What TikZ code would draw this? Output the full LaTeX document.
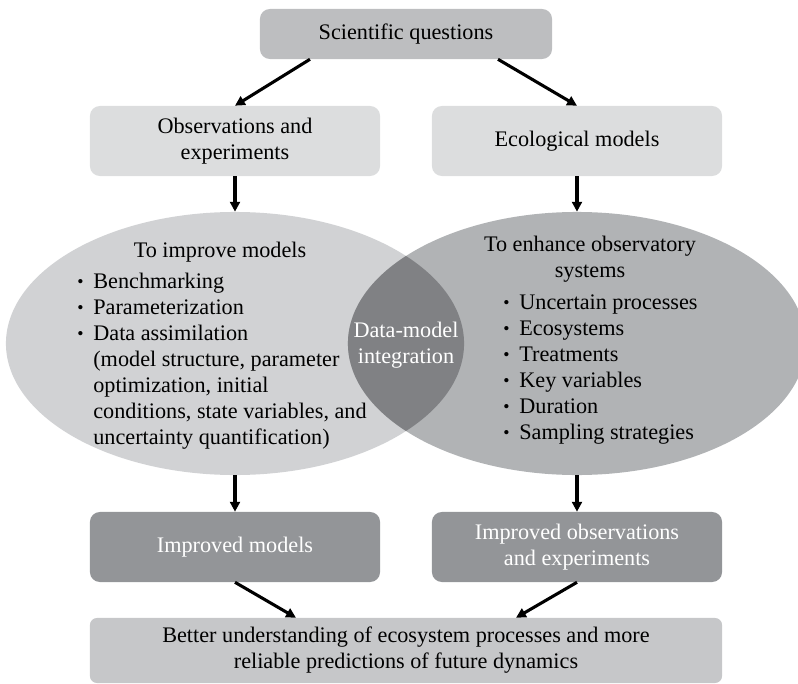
\documentclass[tikz,border=0pt]{standalone}
\usepackage{fontspec}
\setmainfont{Liberation Serif}
\usetikzlibrary{arrows.meta,shapes.geometric,positioning}

\definecolor{topgray}{HTML}{BDBEC0}
\definecolor{lightgray}{HTML}{DCDDDE}
\definecolor{leftgray}{HTML}{D1D2D4}
\definecolor{rightgray}{HTML}{B1B3B5}
\definecolor{lensgray}{HTML}{808184}
\definecolor{darkgray}{HTML}{939598}
\definecolor{bottomgray}{HTML}{C6C7C9}

\newcommand{\bul}{\raisebox{0.1ex}{\scalebox{0.8}{\textbullet}}}

\begin{document}
\begin{tikzpicture}[x=0.025cm, y=-0.025cm,
    font=\fontsize{15.8}{18.5}\selectfont,
    box/.style={rectangle, rounded corners=7pt, minimum width=7.25cm, minimum height=1.75cm, align=center, inner sep=2pt},
    oval/.style={ellipse, minimum width=11.45cm, minimum height=6.575cm, inner sep=0pt},
    arr/.style={-{Triangle[length=7pt,width=7pt]}, line width=2.2pt}]
   \useasboundingbox (0,0) rectangle (798,684);

   % boxes
   \node[box, fill=topgray, minimum width=7.3cm, minimum height=1.25cm] (sq) at (406,34) {Scientific questions};
   \node[box, fill=lightgray] (obs) at (235,141) {Observations and\\experiments};
   \node[box, fill=lightgray] (eco) at (577,141) {Ecological models};

   % the two ellipses and their overlap
   \node[oval, fill=leftgray] (lell) at (235,343.5) {};
   \node[oval, fill=rightgray] (rell) at (577,343.5) {};
   \begin{scope}
     \clip (lell.center) ellipse [x radius=5.725cm, y radius=3.2875cm];
     \fill[lensgray] (rell.center) ellipse [x radius=5.725cm, y radius=3.2875cm];
   \end{scope}

   \node[] (ltitle) at (220,252) {To improve models};
   \node[anchor=north west, inner sep=0pt] (llist) at (77,270) {%
     \begin{tabular}{@{}l@{\hspace{7pt}}l@{}}
       \bul & Benchmarking\\
       \bul & Parameterization\\
       \bul & Data assimilation\\
            & (model structure, parameter\\
            & optimization, initial\\
            & conditions, state variables, and\\
            & uncertainty quantification)
     \end{tabular}};
   \node[align=center, text=white] (dmi) at (406,345) {Data-model\\integration};
   \node[align=center] (rtitle) at (590,259.5) {To enhance observatory\\systems};
   \node[anchor=north west, inner sep=0pt] (rlist) at (503,291) {%
     \begin{tabular}{@{}l@{\hspace{7pt}}l@{}}
       \bul & Uncertain processes\\
       \bul & Ecosystems\\
       \bul & Treatments\\
       \bul & Key variables\\
       \bul & Duration\\
       \bul & Sampling strategies
     \end{tabular}};

   \node[box, fill=darkgray, text=white] (impm) at (235,547) {Improved models};
   \node[box, fill=darkgray, text=white] (impo) at (577,547) {Improved observations\\and experiments};
   \node[box, fill=bottomgray, minimum width=15.8cm, minimum height=1.625cm, rounded corners=5pt] (better) at (406,650.5)
     {Better understanding of ecosystem processes and more\\reliable predictions of future dynamics};

  \path[arr]
    ([xshift=-2.4cm]sq.south) edge (obs.north)
    ([xshift=2.3cm]sq.south) edge (eco.north)
    (obs) edge (lell)
    (eco) edge (rell)
    (lell) edge (impm)
    (rell) edge (impo)
    (impm.south) edge ([xshift=-2.75cm]better.north)
    (impo.south) edge ([xshift=2.75cm]better.north);
\end{tikzpicture}
\end{document}
